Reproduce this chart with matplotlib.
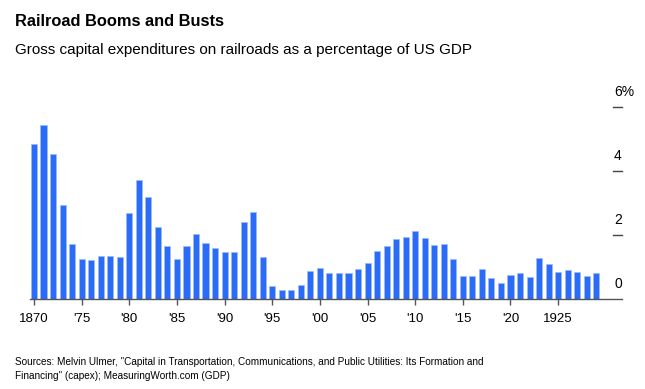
import matplotlib
matplotlib.use('Agg')
import matplotlib.pyplot as plt
import matplotlib.transforms as mtransforms

# data (percent of US GDP)
anos = list(range(1870, 1930))
capex_pct = [
    4.83, 5.44, 4.53, 2.94, 1.72, 1.26, 1.22, 1.34, 1.33, 1.31,
    2.68, 3.72, 3.19, 2.25, 1.66, 1.25, 1.65, 2.03, 1.75, 1.58,
    1.48, 1.48, 2.41, 2.72, 1.30, 0.42, 0.29, 0.28, 0.43, 0.86,
    0.96, 0.81, 0.81, 0.81, 0.94, 1.11, 1.49, 1.66, 1.86, 1.93,
    2.11, 1.89, 1.69, 1.73, 1.25, 0.71, 0.71, 0.93, 0.65, 0.50,
    0.75, 0.80, 0.69, 1.27, 1.10, 0.85, 0.91, 0.83, 0.73, 0.81,
]
xticks = [1870, 1875, 1880, 1885, 1890, 1895, 1900, 1905, 1910, 1915, 1920, 1925]
xtick_labels = ['1870', "'75", "'80", "'85", "'90", "'95", "'00", "'05", "'10", "'15", "'20", '1925']
yticks = [0, 2, 4, 6]
ytick_labels = ['0', '2', '4', '6%']

plt.rcParams['font.family'] = ['Liberation Sans', 'DejaVu Sans']

fig = plt.figure(figsize=(6.45, 3.89), dpi=100)
W, H = 645, 389
ax = fig.add_axes([30 / W, (H - 299) / H, (622 - 30) / W, (299 - 106.7) / H])

ax.bar(anos, capex_pct, width=0.64, color='#2a6cf8', edgecolor='#9dbcff', linewidth=0.5, zorder=2)

ax.set_xlim(1869.58, 1931.7)
ax.set_ylim(0, 6)

for lado in ['top', 'right', 'left']:
    ax.spines[lado].set_visible(False)
ax.spines['bottom'].set_color('#555555')
ax.spines['bottom'].set_linewidth(1.0)

ax.set_xticks(xticks)
ax.set_xticklabels(xtick_labels, fontsize=9.5, color='black')
ax.tick_params(axis='x', length=4, width=1, color='#555555', pad=6)

ax.set_yticks([])
trans = mtransforms.blended_transform_factory(ax.transAxes, ax.transData)
for v, lab in zip(yticks, ytick_labels):
    if v > 0:
        ax.plot([0.9845, 1.0], [v, v], transform=trans, color='#444444', lw=1.0, clip_on=False)
    ax.text(0.9865, v + 0.24, lab, transform=trans, ha='left', va='bottom', fontsize=10, color='black')

fig.text(15 / W, 1 - 22 / H, 'Railroad Booms and Busts', fontsize=11.8, fontweight='bold', ha='left', va='center')
fig.text(15 / W, 1 - 50 / H, 'Gross capital expenditures on railroads as a percentage of US GDP', fontsize=11, ha='left', va='center')
fig.text(15 / W, 1 - 369 / H,
         'Sources: Melvin Ulmer, "Capital in Transportation, Communications, and Public Utilities: Its Formation and\n'
         'Financing" (capex); MeasuringWorth.com (GDP)',
         fontsize=7.2, ha='left', va='center', linespacing=1.45)

fig.savefig('out.png', dpi=100)
